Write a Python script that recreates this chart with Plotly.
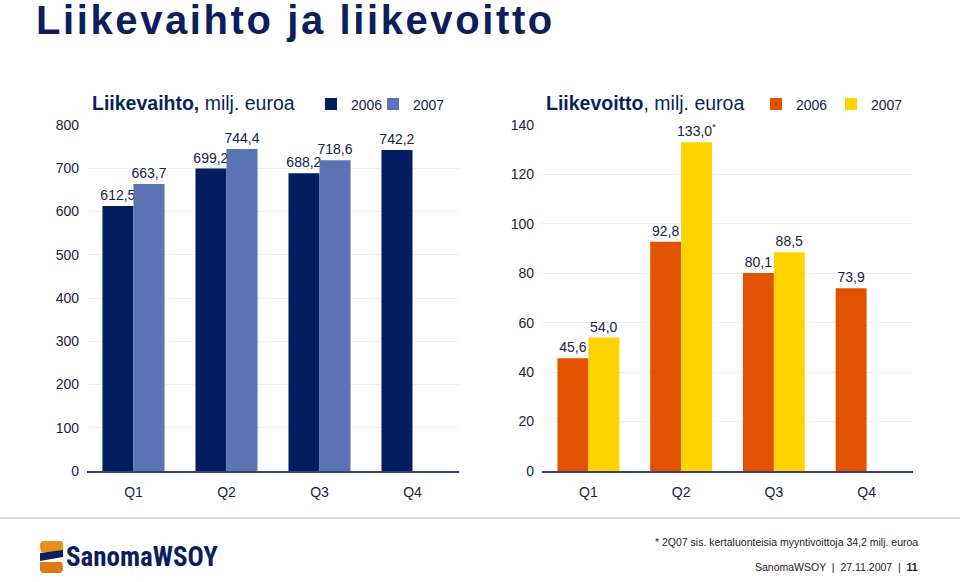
import plotly.graph_objects as go

# ---- data ----
quarters = ["Q1", "Q2", "Q3", "Q4"]
sales_2006 = [612.5, 699.2, 688.2, 742.2]
sales_2007 = [663.7, 744.4, 718.6, None]
profit_2006 = [45.6, 92.8, 80.1, 73.9]
profit_2007 = [54.0, 133.0, 88.5, None]
sales_ticks = [0, 100, 200, 300, 400, 500, 600, 700, 800]
profit_ticks = [0, 20, 40, 60, 80, 100, 120, 140]
years = ["2006", "2007"]


def fi(v):
    return f"{v:.1f}".replace(".", ",")


def series(vals, star_idx=None):
    xs, ys, ts = [], [], []
    for i, (q, v) in enumerate(zip(quarters, vals)):
        if v is None:
            continue
        xs.append(q)
        ys.append(v)
        t = fi(v)
        if star_idx is not None and i == star_idx:
            t += "<sup>*</sup>"
        ts.append(t)
    return xs, ys, ts


NAVY = "#0c1f5c"
TXT = "#17214a"
FONT = "Liberation Sans, Arial, sans-serif"
W, H = 960, 582


def fx(X):
    return X / W


def fy(Y):
    return 1 - Y / H


fig = go.Figure()
specs = [
    (sales_2006, None, years[0], "#001e5f", "x", "y", "legend"),
    (sales_2007, None, years[1], "#5a73b3", "x", "y", "legend2"),
    (profit_2006, None, years[0], "#e35200", "x2", "y2", "legend3"),
    (profit_2007, 1, years[1], "#ffd200", "x2", "y2", "legend4"),
]
for vals, star, name, col, xa, ya, lg in specs:
    xs, ys, ts = series(vals, star)
    fig.add_trace(go.Bar(x=xs, y=ys, name=name, marker_color=col, text=ts,
                         textposition="outside", cliponaxis=False, constraintext="none",
                         xaxis=xa, yaxis=ya, legend=lg))
fig.update_traces(textfont=dict(size=14, color=TXT, family=FONT), marker_line_width=0)

ydom = [fy(471), fy(125)]
axfont = dict(size=14, color=TXT, family=FONT)
xcommon = dict(showline=True, linecolor="#3a4266", linewidth=1.5, ticks="", tickfont=axfont,
               ticklabelstandoff=7, showgrid=False, fixedrange=True, automargin=False,
               categoryorder="array", categoryarray=quarters, range=[-0.5, 3.5])
ycommon = dict(showgrid=True, gridcolor="#eeeeee", gridwidth=1, zeroline=False, ticks="",
               tickfont=axfont, ticklabelstandoff=7, showline=False, fixedrange=True,
               automargin=False)

legfont = dict(size=14, color=TXT, family=FONT)


def leg(square_x, y=104.5):
    return dict(orientation="h", xref="container", yref="container",
                x=fx(square_x - 17), y=fy(y), xanchor="left", yanchor="middle",
                font=legfont, bgcolor="rgba(0,0,0,0)", tracegroupgap=0)


fig.update_layout(
    width=W, height=H,
    margin=dict(l=0, r=0, t=0, b=0, autoexpand=False),
    paper_bgcolor="white", plot_bgcolor="white",
    barmode="group", bargap=0.333, bargroupgap=0,
    font=dict(family=FONT, color=TXT),
    xaxis=dict(domain=[fx(87), fx(459)], anchor="y", **xcommon),
    yaxis=dict(domain=ydom, anchor="x", range=[0, 800], tickvals=sales_ticks, **ycommon),
    xaxis2=dict(domain=[fx(542), fx(913)], anchor="y2", **xcommon),
    yaxis2=dict(domain=ydom, anchor="x2", range=[0, 140], tickvals=profit_ticks, **ycommon),
    legend=leg(328),
    legend2=leg(390),
    legend3=leg(773),
    legend4=leg(848),
    showlegend=True,
)

ann = []
ann.append(dict(x=fx(34), y=fy(20), xref="paper", yref="paper", xanchor="left", yanchor="middle",
                showarrow=False,
                text="<span style='letter-spacing:2.6px'><b>Liikevaihto ja liikevoitto</b></span>",
                font=dict(size=40, color=NAVY, family=FONT)))
ann.append(dict(x=fx(90), y=fy(103), xref="paper", yref="paper", xanchor="left", yanchor="middle",
                showarrow=False, text="<b>Liikevaihto,</b> milj. euroa",
                font=dict(size=19.5, color=NAVY, family=FONT)))
ann.append(dict(x=fx(544), y=fy(103), xref="paper", yref="paper", xanchor="left", yanchor="middle",
                showarrow=False, text="<b>Liikevoitto</b>, milj. euroa",
                font=dict(size=19.5, color=NAVY, family=FONT)))
ann.append(dict(x=fx(920), y=fy(542), xref="paper", yref="paper", xanchor="right", yanchor="middle",
                showarrow=False, text="* 2Q07 sis. kertaluonteisia myyntivoittoja 34,2 milj. euroa",
                font=dict(size=10.5, color="#222222", family=FONT)))
ann.append(dict(x=fx(920), y=fy(567), xref="paper", yref="paper", xanchor="right", yanchor="middle",
                showarrow=False, text="SanomaWSOY  |  27.11.2007  |  <b>11</b>",
                font=dict(size=10.5, color="#222222", family=FONT)))
ann.append(dict(x=fx(64), y=fy(557), xref="paper", yref="paper", xanchor="left", yanchor="middle",
                showarrow=False, text="<b>SanomaWSOY</b>",
                font=dict(size=27, color="#0d1f5a",
                          family="Liberation Sans Narrow, Roboto Condensed, Arial Narrow, Liberation Sans")))
fig.update_layout(annotations=ann)


def px(x, y):
    return f"{fx(x):.5f},{fy(y):.5f}"


shapes = [
    dict(type="line", xref="paper", yref="paper", x0=0, x1=1, y0=fy(518), y1=fy(518),
         line=dict(color="#cccccc", width=1.5)),
    dict(type="path", xref="paper", yref="paper",
         path=f"M{px(44,541)} L{px(60,541)} Q{px(63,541)} {px(63,545)} L{px(63,552)} L{px(41,552)} L{px(40,546)} Q{px(40,541)} {px(44,541)} Z",
         fillcolor="#e8901a", line=dict(width=0)),
    dict(type="path", xref="paper", yref="paper",
         path=f"M{px(40,562)} L{px(62,562)} L{px(63,568)} Q{px(63,573)} {px(59,573)} L{px(44,573)} Q{px(40,573)} {px(40,569)} Z",
         fillcolor="#e07a10", line=dict(width=0)),
    dict(type="path", xref="paper", yref="paper",
         path=f"M{px(40,553)} L{px(63,550)} L{px(63,557)} L{px(40,561)} Z",
         fillcolor="#0d1f5a", line=dict(width=0)),
]
fig.update_layout(shapes=shapes)

fig.write_html("out.html", config={"displayModeBar": False},
               post_script="document.body.style.margin='0';document.body.style.overflow='hidden';")
